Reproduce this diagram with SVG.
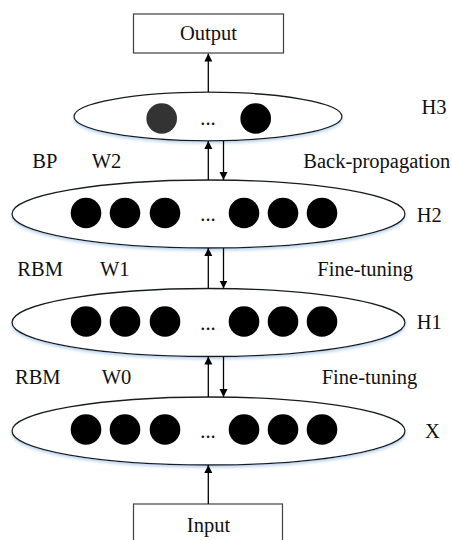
<svg xmlns="http://www.w3.org/2000/svg" width="452" height="540" viewBox="0 0 452 540">
  <style>
    .box { fill: #ffffff; stroke: #404040; stroke-width: 1.2; }
    .layer { fill: #ffffff; stroke: #1a1a1a; stroke-width: 1.3; filter: url(#glow); }
    .unit { fill: #000000; }
    .unit-dim { fill: #333333; }
    .lbl { font-family: "Liberation Serif", "Times New Roman", serif; font-size: 20.5px; fill: #111111; }
    .mid { text-anchor: middle; }
    .link { stroke: #000000; stroke-width: 1.3; fill: none; marker-end: url(#tip); }
  </style>
  <defs>
    <marker id="tip" viewBox="0 0 8 10" refX="8" refY="5" markerWidth="8" markerHeight="10" markerUnits="userSpaceOnUse" orient="auto">
      <path d="M0,1 L8,5 L0,9 Z" fill="#000000"/>
    </marker>
    <filter id="glow" x="-10%" y="-20%" width="120%" height="150%">
      <feDropShadow dx="0" dy="2" stdDeviation="1.5" flood-color="#8fb8e0" flood-opacity="0.6"/>
    </filter>
  </defs>

  <!-- Output box -->
  <g id="output">
    <rect class="box" x="133.5" y="14" width="150" height="39"/>
    <text class="lbl mid" x="208.5" y="40">Output</text>
  </g>

  <!-- Hidden layer H3 -->
  <g id="h3">
    <ellipse class="layer" cx="208" cy="116.5" rx="134" ry="24.3"/>
    <circle class="unit-dim" cx="161.7" cy="118.5" r="15.3"/>
    <text class="lbl mid" x="208" y="125">...</text>
    <circle class="unit" cx="255.7" cy="118.5" r="15.3"/>
  </g>

  <!-- Hidden layer H2 -->
  <g id="h2">
    <ellipse class="layer" cx="208.5" cy="214" rx="196.5" ry="34"/>
    <circle class="unit" cx="86" cy="213" r="15.3"/>
    <circle class="unit" cx="125" cy="213" r="15.3"/>
    <circle class="unit" cx="165" cy="213" r="15.3"/>
    <text class="lbl mid" x="208" y="221">...</text>
    <circle class="unit" cx="244" cy="213" r="15.3"/>
    <circle class="unit" cx="283" cy="213" r="15.3"/>
    <circle class="unit" cx="322" cy="213" r="15.3"/>
  </g>

  <!-- Hidden layer H1 -->
  <g id="h1">
    <ellipse class="layer" cx="208.5" cy="322.5" rx="196.5" ry="34"/>
    <circle class="unit" cx="86" cy="321.5" r="15.3"/>
    <circle class="unit" cx="125" cy="321.5" r="15.3"/>
    <circle class="unit" cx="165" cy="321.5" r="15.3"/>
    <text class="lbl mid" x="208" y="329.5">...</text>
    <circle class="unit" cx="244" cy="321.5" r="15.3"/>
    <circle class="unit" cx="283" cy="321.5" r="15.3"/>
    <circle class="unit" cx="322" cy="321.5" r="15.3"/>
  </g>

  <!-- Visible layer X -->
  <g id="x">
    <ellipse class="layer" cx="208.5" cy="431" rx="196.5" ry="34"/>
    <circle class="unit" cx="86" cy="429.5" r="15.3"/>
    <circle class="unit" cx="125" cy="429.5" r="15.3"/>
    <circle class="unit" cx="165" cy="429.5" r="15.3"/>
    <text class="lbl mid" x="208" y="437.5">...</text>
    <circle class="unit" cx="244" cy="429.5" r="15.3"/>
    <circle class="unit" cx="283" cy="429.5" r="15.3"/>
    <circle class="unit" cx="322" cy="429.5" r="15.3"/>
  </g>

  <!-- Input box -->
  <g id="input">
    <rect class="box" x="133.5" y="504" width="149" height="44"/>
    <text class="lbl mid" x="208.5" y="531.5">Input</text>
  </g>

  <!-- Connectors: upward pass and downward fine-tuning -->
  <g id="connectors">
    <line class="link" x1="208.3" y1="92" x2="208.3" y2="53.5"/>
    <line class="link" x1="208.3" y1="180" x2="208.3" y2="141"/>
    <line class="link" x1="223.5" y1="141" x2="223.5" y2="180"/>
    <line class="link" x1="208.3" y1="288.5" x2="208.3" y2="248"/>
    <line class="link" x1="223.5" y1="248" x2="223.5" y2="288.5"/>
    <line class="link" x1="208.3" y1="397" x2="208.3" y2="356.5"/>
    <line class="link" x1="223.5" y1="356.5" x2="223.5" y2="397"/>
    <line class="link" x1="208.3" y1="504" x2="208.3" y2="465"/>
  </g>

  <!-- Layer and stage labels -->
  <g id="labels">
    <text class="lbl" x="421.5" y="113.5">H3</text>
    <text class="lbl" x="32.3" y="168">BP</text>
    <text class="lbl" x="91.7" y="168">W2</text>
    <text class="lbl" x="303.3" y="168">Back-propagation</text>
    <text class="lbl" x="416.7" y="221.5">H2</text>
    <text class="lbl" x="17.3" y="276">RBM</text>
    <text class="lbl" x="100" y="276">W1</text>
    <text class="lbl" x="317.3" y="276">Fine-tuning</text>
    <text class="lbl" x="416.7" y="329">H1</text>
    <text class="lbl" x="15" y="383.5">RBM</text>
    <text class="lbl" x="101.7" y="383.5">W0</text>
    <text class="lbl" x="321.7" y="383.5">Fine-tuning</text>
    <text class="lbl" x="425" y="437.5">X</text>
  </g>
</svg>
